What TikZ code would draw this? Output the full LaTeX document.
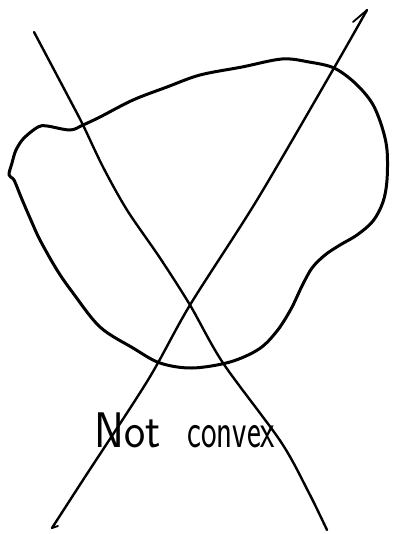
\documentclass[tikz,border=0pt]{standalone}
\begin{document}
\begin{tikzpicture}[x=1pt,y=-1pt, line cap=round, line join=round,
  blob/.style={line width=3pt},
  cut/.style={line width=2.4pt},
  hook/.style={line width=1.8pt}]
\useasboundingbox (0,0) rectangle (392,534);
\fill[white] (0,0) rectangle (392,534);
% the non-convex region
\draw[blob] plot[smooth cycle, tension=0.55] coordinates {
  (83,125) (100,117) (133,100) (167,87) (200,75) (242,67) (282,59)
  (309,62) (334,68) (355,83) (372,103) (382,127) (387,150) (387,180)
  (383,202) (373,221) (357,235) (340,245) (325,255) (312,268) (302,286)
  (291,309) (277,331) (259,349) (230,362) (192,368) (160,363) (133,348)
  (100,327) (73,293) (57,270) (40,240) (30,218) (21,197) (14,180)
  (9,175) (12,163) (16,150) (24,138) (38,127) (47,126) (70,130)};
% first cutting line
\coordinate (p1) at (34,32);
\coordinate (p2) at (327,530);
\draw[cut] plot[smooth, tension=0.5] coordinates {
  (p1) (70,100) (83,125) (103,167) (127,210) (160,258) (190,305)
  (223,363) (281,442) (309,493) (p2)};
% second cutting line
\coordinate (q1) at (52,528);
\coordinate (q2) at (367,10);
\draw[cut] plot[smooth, tension=0.5] coordinates {
  (q1) (83,480) (148,380) (190,305) (257,200) (334,68) (q2)};
\coordinate (q2h) at (353,22);
\coordinate (q1h) at (58,526);
\draw[hook] (q2) -- (q2h);
\draw[hook] (q1) -- (q1h);
% label
\node[anchor=base west, inner sep=0pt] (label) at (94,447)
  {\sffamily\fontsize{50}{50}\selectfont
   \scalebox{0.9}[1]{Not}\hspace{27pt}\scalebox{0.66}[1]{convex}};
\end{tikzpicture}
\end{document}
